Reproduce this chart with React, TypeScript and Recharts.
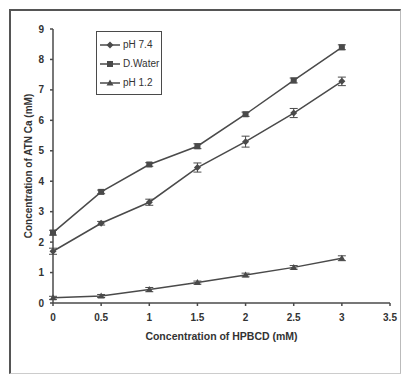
import { LineChart, Line, XAxis, YAxis, ErrorBar } from "recharts";

// concentration of HPBCD (mM)
const hpbcd = [0, 0.5, 1, 1.5, 2, 2.5, 3];
const dWater = [2.31, 3.65, 4.55, 5.15, 6.2, 7.31, 8.4];
const dWaterErr = [0.08, 0.06, 0.06, 0.08, 0.07, 0.08, 0.08];
const ph74 = [1.7, 2.62, 3.31, 4.45, 5.3, 6.24, 7.28];
const ph74Err = [0.1, 0.06, 0.1, 0.15, 0.18, 0.15, 0.14];
const ph12 = [0.17, 0.23, 0.44, 0.67, 0.92, 1.17, 1.47];
const ph12Err = [0.05, 0.05, 0.07, 0.05, 0.06, 0.06, 0.08];
const xTicks = [0, 0.5, 1, 1.5, 2, 2.5, 3, 3.5];
const yTicks = [0, 1, 2, 3, 4, 5, 6, 7, 8, 9];

const data = hpbcd.map((x, i) => ({
  x,
  ph74: ph74[i],
  ph74Err: ph74Err[i],
  water: dWater[i],
  waterErr: dWaterErr[i],
  ph12: ph12[i],
  ph12Err: ph12Err[i],
}));

const ink = "#4a4a4a";
const font = "'Liberation Sans', Arial, sans-serif";

function Marker({ cx, cy, kind }: { cx: number; cy: number; kind: string }) {
  if (kind === "diamond")
    return <path d={`M${cx},${cy - 3.5}L${cx + 3.5},${cy}L${cx},${cy + 3.5}L${cx - 3.5},${cy}Z`} fill={ink} />;
  if (kind === "triangle")
    return <path d={`M${cx},${cy - 3.5}L${cx + 3.5},${cy + 2.5}L${cx - 3.5},${cy + 2.5}Z`} fill={ink} />;
  return <rect x={cx - 3} y={cy - 3} width={6} height={6} fill={ink} />;
}

const series = [
  { key: "ph74", name: "pH 7.4", kind: "diamond" },
  { key: "water", name: "D.Water", kind: "square" },
  { key: "ph12", name: "pH 1.2", kind: "triangle" },
];

function LegendBox() {
  return (
    <div
      style={{
        position: "absolute",
        left: 96,
        top: 31,
        width: 66,
        height: 64,
        boxSizing: "border-box",
        border: `1.5px solid ${ink}`,
        background: "#fff",
        padding: "3px 0 0 2px",
        fontFamily: font,
        fontSize: 10,
        color: "#333",
      }}
    >
      {series.map((s) => (
        <div key={s.key} style={{ display: "flex", alignItems: "center", height: 19 }}>
          <svg width={22} height={10}>
            <line x1={1} y1={5} x2={21} y2={5} stroke={ink} strokeWidth={1.5} />
            <Marker cx={11} cy={5} kind={s.kind} />
          </svg>
          <span style={{ marginLeft: 2, whiteSpace: "nowrap" }}>{s.name}</span>
        </div>
      ))}
    </div>
  );
}

const tickStyle = { fill: "#333", fontSize: 10, fontWeight: "bold", fontFamily: font };

export default function App() {
  return (
    <div style={{ position: "absolute", left: 0, top: 0, width: 402, height: 375, background: "#fff" }}>
      <div
        style={{
          position: "absolute",
          left: 9,
          top: 9,
          width: 389,
          height: 362,
          borderTop: "2px solid #555",
          borderLeft: "2px solid #555",
          borderRight: "1px solid #bbb",
          borderBottom: "1px solid #ccc",
        }}
      />
      <LineChart
        width={402}
        height={375}
        data={data}
        margin={{ top: 29, right: 12, bottom: 32, left: 23 }}
        style={{ position: "absolute", left: 0, top: 0 }}
      >
        <XAxis
          dataKey="x"
          type="number"
          domain={[0, 3.5]}
          ticks={xTicks}
          tickSize={3}
          height={40}
          stroke={ink}
          strokeWidth={1.5}
          tick={tickStyle}
          tickMargin={8}
          label={{
            value: "Concentration of HPBCD (mM)",
            position: "insideBottom",
            offset: 3,
            fill: "#333",
            fontSize: 10.5,
            fontWeight: "bold",
            fontFamily: font,
          }}
        />
        <YAxis
          type="number"
          domain={[0, 9]}
          ticks={yTicks}
          tickSize={3}
          width={30}
          stroke={ink}
          strokeWidth={1.5}
          interval={0}
          tick={tickStyle}
          tickMargin={6}
          label={{
            value: "Concentration of ATN Ca (mM)",
            angle: -90,
            position: "insideLeft",
            offset: 5,
            style: { textAnchor: "middle" },
            fill: "#333",
            fontSize: 10,
            fontWeight: "bold",
            fontFamily: font,
          }}
        />
        {series.map((s) => (
          <Line
            key={s.key}
            dataKey={s.key}
            name={s.name}
            stroke={ink}
            strokeWidth={1.5}
            isAnimationActive={false}
            dot={(p: any) => <Marker key={`${s.key}-${p.index}`} cx={p.cx} cy={p.cy} kind={s.kind} />}
            activeDot={false}
          >
            <ErrorBar dataKey={`${s.key}Err`} width={4} stroke={ink} strokeWidth={1} direction="y" />
          </Line>
        ))}
      </LineChart>
      <LegendBox />
    </div>
  );
}
